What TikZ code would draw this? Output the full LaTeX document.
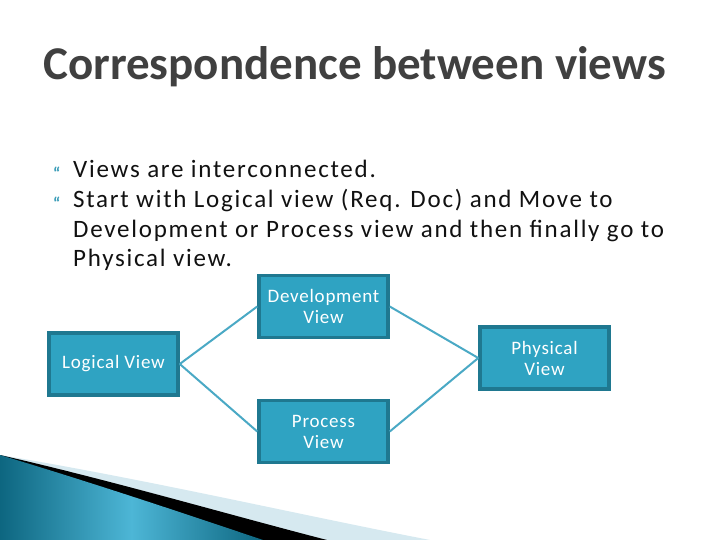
\documentclass[tikz,border=0pt]{standalone}
\usepackage{fontspec}
\setmainfont{Carlito}
\newfontfamily\bodyfont[LetterSpace=7]{Carlito}
\newfontfamily\boxfont[LetterSpace=4]{Carlito}
\definecolor{boxfill}{HTML}{2FA3C2}
\definecolor{boxline}{HTML}{1F7890}
\definecolor{conn}{HTML}{4AA9C5}
\definecolor{titlegray}{HTML}{404040}
\definecolor{bodytext}{HTML}{111111}
\definecolor{bullet}{HTML}{3A9DB8}
\definecolor{swlight}{HTML}{D6E9F0}
\definecolor{swdark}{HTML}{0D6680}
\definecolor{swmid}{HTML}{4DB6D6}
\begin{document}
\begin{tikzpicture}[x=1pt,y=-1pt,
  viewbox/.style={draw=boxline, fill=boxfill, line width=3.5pt,
    minimum width=129pt, minimum height=62pt, text=white,
    font=\boxfont\fontsize{19}{21}\selectfont, align=center, inner sep=0pt},
  link/.style={draw=conn, line width=2pt},
  bodyline/.style={anchor=base west, inner sep=0pt, text=bodytext,
    font=\bodyfont\fontsize{25}{29}\selectfont},
  bulletmark/.style={anchor=base west, inner sep=0pt, text=bullet,
    font=\fontsize{17}{17}\selectfont\bfseries}]
\useasboundingbox (0,0) rectangle (720,540);
\fill[white] (0,0) rectangle (720,540);

% bottom-left swoosh
\fill[swlight] (0,455) .. controls (150,480) and (300,515) .. (430,540) -- (0,540) -- cycle;
\fill[black] (0,455) .. controls (110,480) and (230,515) .. (327,540) -- (0,540) -- cycle;
\shade[left color=swdark, right color=swdark, middle color=swmid]
  (0,455) .. controls (90,482) and (180,512) .. (263,540) -- (0,540) -- cycle;

% title
\node[anchor=base west, inner sep=0pt, text=titlegray,
  font=\fontsize{47}{50}\selectfont\bfseries] (title) at (43,80)
  {Correspondence between views};

% bullets
\node[bulletmark] (b1) at (53,180) {“};
\node[bulletmark] (b2) at (53,209.5) {“};
\node[bodyline] (l1) at (73,178) {Views are interconnected.};
\node[bodyline] (l2) at (73,207.5) {Start with Logical view (Req. Doc) and Move to};
\node[bodyline] (l3) at (73,237) {Development or Process view and then finally go to};
\node[bodyline] (l4) at (73,266.5) {Physical view.};

% diagram
\node[viewbox] (logical) at (113.5,364) {Logical View};
\node[viewbox] (dev) at (323.5,306.5) {Development\\View};
\node[viewbox] (proc) at (323.5,431.5) {Process\\View};
\node[viewbox] (phys) at (544.5,358) {Physical\\View};

\draw[link] (logical.east) -- (dev.west);
\draw[link] (logical.east) -- (proc.west);
\draw[link] (dev.east) -- (phys.west);
\draw[link] (proc.east) -- (phys.west);
\end{tikzpicture}
\end{document}
